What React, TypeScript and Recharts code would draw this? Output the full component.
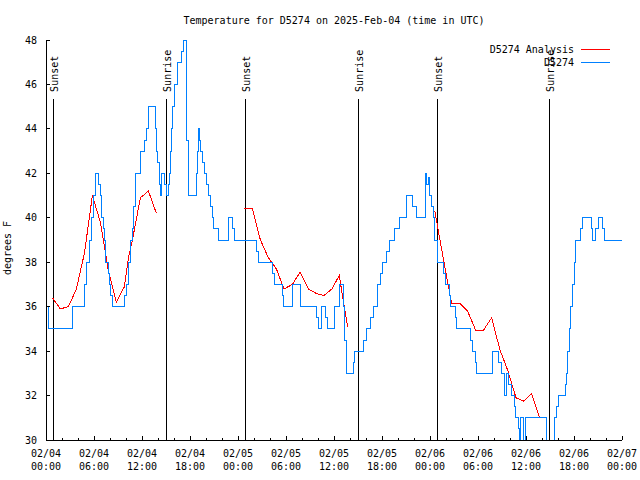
import { LineChart, Line, XAxis, YAxis, ReferenceLine, Legend } from 'recharts';

const FONT = '"DejaVu Sans Mono", "Liberation Mono", monospace';
const BLUE = '#0080ff';
const RED = '#ff0000';

// hours since 2025-02-04 00:00 UTC
const X_TICKS = [0, 2, 4, 6, 8, 10, 12, 14, 16, 18, 20, 22, 24, 26, 28, 30, 32, 34, 36, 38, 40, 42, 44, 46, 48, 50, 52, 54, 56, 58, 60, 62, 64, 66, 68, 70, 72];
const X_TICK_DATES = ['02/04', '02/04', '02/04', '02/04', '02/05', '02/05', '02/05', '02/05', '02/06', '02/06', '02/06', '02/06', '02/07'];
const X_TICK_TIMES = ['00:00', '06:00', '12:00', '18:00', '00:00', '06:00', '12:00', '18:00', '00:00', '06:00', '12:00', '18:00', '00:00'];
const Y_TICKS = [30, 32, 34, 36, 38, 40, 42, 44, 46, 48];

const SUN_NAMES = ['Sunset', 'Sunrise', 'Sunset', 'Sunrise', 'Sunset', 'Sunrise'];
const SUN_HOURS = [0.94, 15.06, 24.94, 39.06, 48.94, 62.94];
const SUN_LINE_TOP = 45.35; // degrees F where the marker lines stop

const SERIES_NAMES = ['D5274 Analysis', 'D5274'];

// D5274 observations (step changes)
const OBS_T = [
  0, 0.35, 3.3, 4.8, 5.0, 5.45, 5.65, 5.95, 6.2, 6.6, 6.8, 6.95, 7.15, 7.3, 7.45, 7.8, 7.9, 8.1, 8.25,
  9.8, 10.0, 10.3, 10.55, 10.8, 10.95, 11.15, 11.75, 11.85, 12.35, 12.55, 12.75, 13.65, 13.8, 13.95, 14.15,
  14.3, 14.45, 14.8, 15.1, 15.3, 15.45, 15.55, 15.7, 15.8, 16.0, 16.4, 16.95, 17.2, 17.6, 17.85, 18.75,
  18.9, 19.0, 19.15, 19.3, 19.6, 19.8, 20.05, 20.3, 20.55, 20.8, 20.95, 21.5, 22.8, 23.3, 23.5, 26.3,
  26.5, 28.3, 28.5, 29.6, 29.7, 30.85, 31.85, 33.8, 34.0, 34.45, 34.95, 35.15, 36.1, 36.7, 37.15, 37.35,
  37.55, 38.4, 38.6, 39.65, 40.0, 40.6, 40.9, 41.45, 41.75, 42.1, 42.5, 42.9, 43.6, 44.2, 45.05, 45.85,
  46.3, 47.45, 47.6, 47.75, 47.95, 48.2, 48.4, 48.6, 48.95, 49.7, 49.95, 50.45, 50.6, 51.2, 51.3, 53.1,
  53.3, 53.65, 53.8, 55.8, 56.6, 56.95, 57.35, 57.5, 57.75, 58.2, 58.6, 58.7, 59.0, 59.15, 59.35, 59.7,
  59.95, 62.5, 63.55, 63.8, 64.0, 64.9, 65.05, 65.2, 65.4, 65.6, 65.8, 66.0, 66.2, 66.75, 67.0, 68.2,
  68.35, 68.7, 69.0, 69.6, 69.85, 72,
];
const OBS_V = [
  36, 35, 36, 37, 38, 39, 40, 41, 42, 41.5, 41, 40, 39.5, 39, 38, 37.5, 37, 36.5, 36,
  36.5, 37, 38, 39, 39.5, 40.5, 42, 42.5, 43, 43.5, 44, 45, 44, 43, 42.5, 41.5,
  41, 42, 41.5, 41, 41.5, 42, 43, 44, 45, 46, 47, 47.5, 48, 43.5, 41, 42,
  43, 44, 43.5, 43, 42.5, 42, 41.5, 41, 40.5, 40, 39.5, 39, 40, 39.5, 39, 38.5,
  38, 37.5, 37, 36.5, 36, 37, 36, 35.5, 35, 36, 35.5, 35, 36, 37, 36, 34.5,
  33, 33.5, 34, 34.5, 35, 35.5, 36, 37, 37.5, 38, 38.5, 39, 39.5, 40, 41, 40.5,
  40, 42, 41.5, 41.8, 41, 40.5, 40, 39, 38, 37.5, 37, 36.5, 36, 35.5, 35, 34.5,
  34, 33.5, 33, 34, 33.5, 33, 32, 33, 32.5, 32, 31.5, 31, 30.5, 30, 31, 30,
  31, 30, 31, 31.5, 32, 32.5, 33, 34, 35, 36, 37, 38, 39, 39.5, 40, 39.5,
  39, 39.5, 40, 39.5, 39, 39,
];

// D5274 Analysis (null = no analysis)
const ANA_T = [
  0.8, 1.8, 2.8, 3.8, 4.8, 5.8, 6.8, 7.8, 8.8, 9.8, 10.3, 10.8, 11.8, 12.8, 13.8,
  19,
  24.8, 25.8, 26.8, 27.8, 28.8, 29.75, 30.8, 31.75, 32.8, 33.75, 34.75, 35.75, 36.65, 37.7,
  43,
  48.6, 49.8, 50.7, 51.75, 52.7, 53.7, 54.7, 55.7, 56.75, 57.7, 58.75, 59.7, 60.7, 61.7,
];
const ANA_V: (number | null)[] = [
  36.4, 35.9, 36.0, 36.8, 38.4, 41.0, 39.8, 37.6, 36.2, 36.9, 38.2, 39.0, 40.9, 41.2, 40.2,
  null,
  40.4, 40.4, 39.0, 38.2, 37.7, 36.8, 37.0, 37.55, 36.8, 36.6, 36.5, 36.8, 37.4, 35.1,
  null,
  40.3, 37.9, 36.15, 36.15, 35.8, 34.95, 34.95, 35.5, 34.05, 33.15, 31.9, 31.75, 32.1, 31.0,
];

const obsData = OBS_T.map((t, i) => ({ t, v: OBS_V[i] }));
const anaData = ANA_T.map((t, i) => ({ t, v: ANA_V[i] }));

function BottomTick(props: any) {
  const { x, y, payload } = props;
  const h = payload.value;
  const major = h % 6 === 0;
  const i = h / 6;
  return (
    <g>
      <line x1={x} y1={y} x2={x} y2={y - (major ? 4 : 2)} stroke="#000" shapeRendering="crispEdges" />
      {major && (
        <text x={x} y={y + 17} textAnchor="middle" fontFamily={FONT} fontSize={10} fill="#000">
          <tspan x={x}>{X_TICK_DATES[i]}</tspan>
          <tspan x={x} dy={13}>{X_TICK_TIMES[i]}</tspan>
        </text>
      )}
    </g>
  );
}

function TopTick(props: any) {
  const { x, y, payload } = props;
  const major = payload.value % 6 === 0;
  return <line x1={x} y1={y} x2={x} y2={y + (major ? 4 : 2)} stroke="#000" shapeRendering="crispEdges" />;
}

function LeftTick(props: any) {
  const { x, y, payload } = props;
  return (
    <g>
      <line x1={x} y1={y} x2={x + 4} y2={y} stroke="#000" shapeRendering="crispEdges" />
      <text x={x - 9} y={y + 3.5} textAnchor="end" fontFamily={FONT} fontSize={10} fill="#000">
        {payload.value}
      </text>
    </g>
  );
}

function RightTick(props: any) {
  const { x, y } = props;
  return <line x1={x} y1={y} x2={x - 4} y2={y} stroke="#000" shapeRendering="crispEdges" />;
}

function sunLabel(text: string) {
  return (p: any) => {
    const vb = p.viewBox;
    if (!vb) return null;
    const x = vb.x + 4.5;
    const y = vb.y - 7;
    return (
      <text x={x} y={y} transform={`rotate(-90 ${x} ${y})`} fontFamily={FONT} fontSize={10} fill="#000">
        {text}
      </text>
    );
  };
}

function yLabel(p: any) {
  const vb = p.viewBox;
  if (!vb) return null;
  const x = vb.x + 11;
  const y = vb.y + vb.height / 2 + 8;
  return (
    <text x={x} y={y} transform={`rotate(-90 ${x} ${y})`} textAnchor="middle" fontFamily={FONT} fontSize={10} fill="#000">
      degrees F
    </text>
  );
}

function LegendBox(props: any) {
  const items = [...(props.payload || [])].sort(
    (a: any, b: any) => SERIES_NAMES.indexOf(a.value) - SERIES_NAMES.indexOf(b.value),
  );
  return (
    <div style={{ fontFamily: FONT, fontSize: 10, color: '#000' }}>
      {items.map((it: any) => (
        <div key={it.value} style={{ display: 'flex', justifyContent: 'flex-end', alignItems: 'center', height: 13, lineHeight: '13px' }}>
          <span style={{ whiteSpace: 'pre' }}>{it.value}</span>
          <span style={{ display: 'inline-block', width: 29, height: 1, marginLeft: 7, background: it.color }} />
        </div>
      ))}
    </div>
  );
}

export default function App() {
  return (
    <div style={{ position: 'absolute', left: 0, top: 0, width: 640, height: 480, background: '#fff' }}>
      <div
        style={{
          position: 'absolute', left: 46, top: 15.5, width: 576, textAlign: 'center',
          fontFamily: FONT, fontSize: 10, lineHeight: '10px', color: '#000', whiteSpace: 'pre',
        }}
      >
        Temperature for D5274 on 2025-Feb-04 (time in UTC)
      </div>
      <LineChart width={640} height={480} margin={{ top: 40, right: 18, bottom: 0, left: 0 }}>
        <XAxis
          dataKey="t"
          type="number"
          domain={[0, 72]}
          ticks={X_TICKS}
          interval={0}
          height={40}
          tickSize={0}
          tickMargin={0}
          tickLine={false}
          tick={<BottomTick />}
          axisLine={{ stroke: '#000', shapeRendering: 'crispEdges' }}
          allowDataOverflow
        />
        <XAxis
          xAxisId="top"
          orientation="top"
          type="number"
          domain={[0, 72]}
          ticks={X_TICKS}
          interval={0}
          height={0}
          tickSize={0}
          tickMargin={0}
          tickLine={false}
          tick={<TopTick />}
          axisLine={{ stroke: '#000', shapeRendering: 'crispEdges' }}
        />
        <YAxis
          type="number"
          domain={[30, 48]}
          ticks={Y_TICKS}
          interval={0}
          width={46}
          tickSize={0}
          tickMargin={0}
          tickLine={false}
          tick={<LeftTick />}
          axisLine={{ stroke: '#000', shapeRendering: 'crispEdges' }}
          label={yLabel}
          allowDataOverflow
        />
        <YAxis
          yAxisId="right"
          orientation="right"
          type="number"
          domain={[30, 48]}
          ticks={Y_TICKS}
          interval={0}
          width={0}
          tickSize={0}
          tickMargin={0}
          tickLine={false}
          tick={<RightTick />}
          axisLine={{ stroke: '#000', shapeRendering: 'crispEdges' }}
        />
        {SUN_HOURS.map((h, i) => (
          <ReferenceLine
            key={i}
            segment={[{ x: h, y: 30 }, { x: h, y: SUN_LINE_TOP }]}
            stroke="#000"
            strokeWidth={1}
            shapeRendering="crispEdges"
            label={sunLabel(SUN_NAMES[i])}
          />
        ))}
        <Line
          data={anaData}
          dataKey="v"
          name={SERIES_NAMES[0]}
          type="linear"
          stroke={RED}
          strokeWidth={1}
          dot={false}
          activeDot={false}
          connectNulls={false}
          shapeRendering="crispEdges"
          isAnimationActive={false}
        />
        <Line
          data={obsData}
          dataKey="v"
          name={SERIES_NAMES[1]}
          type="stepAfter"
          stroke={BLUE}
          strokeWidth={1}
          dot={false}
          activeDot={false}
          shapeRendering="crispEdges"
          isAnimationActive={false}
        />
        <Legend
          layout="vertical"
          align="center"
          verticalAlign="middle"
          content={<LegendBox />}
          wrapperStyle={{ top: 42.5, right: 30, left: 'auto', width: 'auto', height: 'auto' }}
        />
      </LineChart>
    </div>
  );
}
